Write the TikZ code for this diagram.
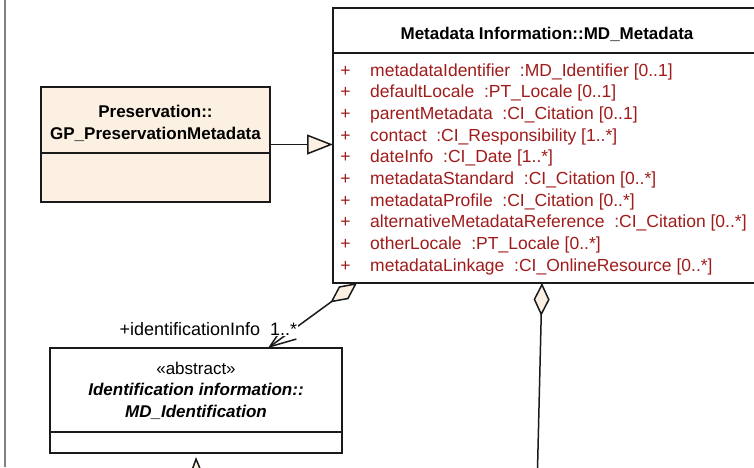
\documentclass[tikz,border=0pt]{standalone}
\usepackage{fontspec}
\setsansfont{Liberation Sans}
\usetikzlibrary{arrows.meta, positioning, calc}

\definecolor{umlcream}{RGB}{251,240,225}
\definecolor{umlattr}{RGB}{160,28,28}
\definecolor{umlline}{RGB}{26,26,26}
\definecolor{framegray}{RGB}{128,128,128}

\begin{document}
\begin{tikzpicture}[x=1pt, y=-1pt, font=\sffamily,
		class_head/.style = {rectangle, draw=umlline, line width=2pt, outer sep=0pt, inner sep=0pt},
		class_title/.style = {font=\sffamily\bfseries\fontsize{17}{21.7}\selectfont, align=center, inner sep=0pt},
		attr_text/.style = {text=umlattr, font=\sffamily\fontsize{17.5}{21.7}\selectfont, inner sep=0pt},
		role_label/.style = {font=\sffamily\fontsize{18}{21.7}\selectfont, fill=white, inner sep=1pt},
		gen/.style = {draw=umlline, line width=1.5pt, -{Triangle[length=26pt, width=20pt, fill=umlcream]}},
		agg/.style = {draw=umlline, line width=1.5pt, {Diamond[length=33pt, width=16pt, fill=umlcream]}-},
		agg_nav/.style = {agg, {Diamond[length=33pt, width=16pt, fill=umlcream]}-{Straight Barb[length=26pt, width=19pt]}}
		]

		\useasboundingbox (0,0) rectangle (754,467);
		\clip (0,0) rectangle (754,467);

		% --- Marco del paquete ---
		\draw[framegray, line width=1.5pt] (5,0) -- (5,467);

		% --- MD_Metadata ---
		\node[class_head, fill=white, minimum width=428pt, minimum height=45pt] (metahead) at (547,30.5) {};
		\node[class_head, fill=white, minimum width=428pt, minimum height=230pt, below=0pt of metahead] (metabody) {};
		\node[class_title, anchor=base] (metatitle) at ([yshift=-8.5pt]metahead.center) {Metadata Information::MD\_Metadata};

		\foreach \aname/\atype [count=\i from 0] in {
				{metadataIdentifier}/{MD\_Identifier [0..1]},
				{defaultLocale}/{PT\_Locale [0..1]},
				{parentMetadata}/{CI\_Citation [0..1]},
				{contact}/{CI\_Responsibility [1..*]},
				{dateInfo}/{CI\_Date [1..*]},
				{metadataStandard}/{CI\_Citation [0..*]},
				{metadataProfile}/{CI\_Citation [0..*]},
				{alternativeMetadataReference}/{CI\_Citation [0..*]},
				{otherLocale}/{PT\_Locale [0..*]},
				{metadataLinkage}/{CI\_OnlineResource [0..*]}} {
			\node[attr_text, anchor=base] (plus\i) at (345.5, 76+21.7*\i) {+};
			\node[attr_text, anchor=base west] (attr\i) at (370, 76+21.7*\i) {\aname\ \ :\atype};
		}

		% --- GP_PreservationMetadata ---
		\node[class_head, fill=umlcream, minimum width=229pt, minimum height=66pt] (preshead) at (155.5,120) {};
		\node[class_head, fill=umlcream, minimum width=229pt, minimum height=49pt, below=0pt of preshead] (presbody) {};
		\node[class_title] (prestitle) at ([yshift=-3.7pt]preshead.center) {Preservation::\\GP\_PreservationMetadata};

		% --- MD_Identification ---
		\node[class_head, fill=white, minimum width=292pt, minimum height=84pt] (idhead) at (196,390) {};
		\node[class_head, fill=white, minimum width=292pt, minimum height=21pt, below=0pt of idhead] (idbody) {};
		\node[class_title] (idtitle) at ([yshift=-0.7pt]idhead.center) {{\mdseries «abstract»}\\\itshape Identification information::\\\itshape MD\_Identification};

		% --- Extremos fuera del recorte ---
		\coordinate (presmid) at ($(preshead.north east)!0.5!(presbody.south east)$);
		\coordinate (offbelow) at (537,490);
		\coordinate (idchild) at (197,500);

		% --- Conexiones ---
		\draw[gen] (presmid) -- (presmid -| metabody.west);
		\draw[agg_nav] ([xshift=24pt]metabody.south west) -- ([xshift=72pt]idhead.north)
			node[role_label, at end, anchor=base east, xshift=31pt, yshift=13pt] (idrole) {+identificationInfo\ \ 1..*};
		\draw[agg] ([xshift=209pt]metabody.south west) -- (offbelow);
		\draw[gen] (idchild) -- ([yshift=-4pt]idbody.south);

\end{tikzpicture}
\end{document}
